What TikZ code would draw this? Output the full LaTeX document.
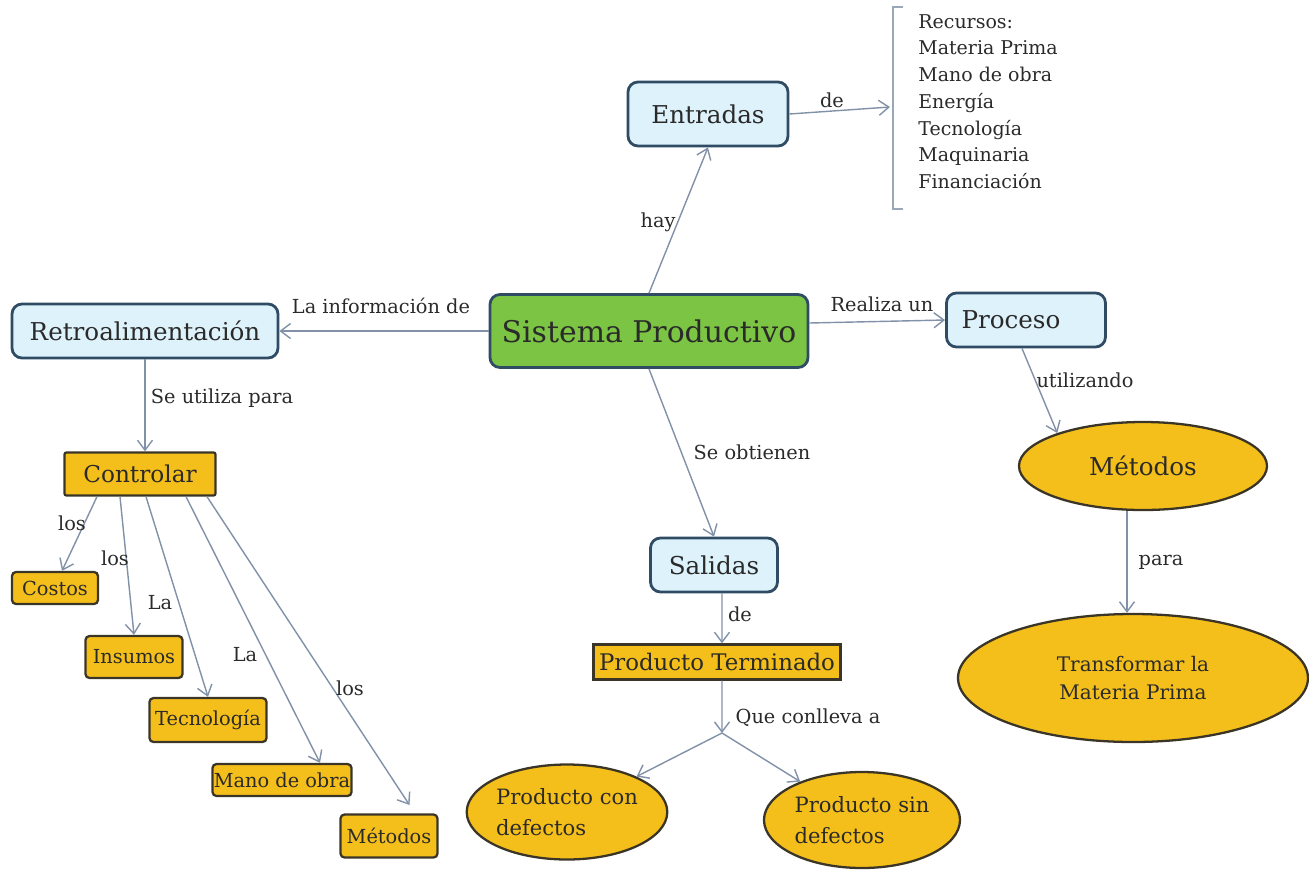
\documentclass[tikz,border=0pt]{standalone}
\usepackage{fontspec}
\setmainfont{DejaVu Serif}
\usepackage{tikz}
\usetikzlibrary{arrows.meta,positioning,shapes.geometric,calc}

\definecolor{boxblue}{HTML}{DDF2FB}
\definecolor{boxedge}{HTML}{2F4C64}
\definecolor{coregreen}{HTML}{7CC444}
\definecolor{itemgold}{HTML}{F5BF1B}
\definecolor{itemedge}{HTML}{3A3526}
\definecolor{linkgray}{HTML}{8191A8}
\definecolor{inktext}{HTML}{2A2A2A}

\begin{document}
\begin{tikzpicture}[
    x=0.2mm, y=-0.2mm,
    concept/.style={draw=boxedge, line width=1.6pt, rounded corners=2mm, fill=boxblue, minimum height=10.8mm, align=center, text=inktext, font=\fontsize{14}{16}\selectfont},
    core/.style={concept, fill=coregreen, minimum width=63.6mm, minimum height=14.6mm, font=\fontsize{17}{19}\selectfont},
    item/.style={draw=itemedge, line width=1.3pt, rounded corners=0.8mm, fill=itemgold, inner sep=1pt, text=inktext, font=\fontsize{11}{13}\selectfont},
    oval/.style={ellipse, draw=itemedge, line width=1.3pt, fill=itemgold, inner sep=0pt, align=center, text=inktext, font=\fontsize{12}{17.6}\selectfont},
    link/.style={-{Straight Barb[length=2mm, width=3mm]}, draw=linkgray, line width=0.8pt},
    lbl/.style={text=inktext, font=\fontsize{11}{13}\selectfont}
]
\useasboundingbox (0,0) rectangle (1309,871);

% main concepts
\node[core] (sis) at (649,331) {Sistema Productivo};
\node[concept, minimum width=32mm, minimum height=12.8mm] (ent) at (708,114) {Entradas};
\node[concept, minimum width=53.2mm] (retro) at (145,331) {Retroalimentación};
\node[concept, minimum width=31.8mm, text width=25.8mm, inner xsep=3mm, align=left] (proc) at (1026,320) {Proceso};
\node[concept, minimum width=25.4mm] (sal) at (714,565) {Salidas};

% resources of the inputs
\node[anchor=north west, inner sep=0pt, align=left, text=inktext, font=\fontsize{10.8}{15.2}\selectfont] (rec) at (918,14)
    {Recursos:\\Materia Prima\\Mano de obra\\Energía\\Tecnología\\Maquinaria\\Financiación};
\draw[draw=linkgray!80, line width=0.8pt] (903,7) -- (893,7) -- (893,209) -- (903,209);
\coordinate (recin) at (890,107);

% feedback branch
\node[item, rounded corners=0.4mm, minimum width=30.2mm, minimum height=8.6mm, font=\fontsize{13.2}{15}\selectfont] (ctrl) at (140,474) {Controlar};
\node[item, minimum width=17.2mm, minimum height=6.4mm] (cost) at (55,588) {Costos};
\node[item, minimum width=19.4mm, minimum height=8.4mm] (insu) at (134,657) {Insumos};
\node[item, minimum width=23.4mm, minimum height=8.8mm] (tec) at (208,720) {Tecnología};
\node[item, minimum width=27.8mm, minimum height=6.4mm, inner xsep=0pt] (mano) at (282,780) {Mano de obra};
\node[item, minimum width=19.4mm, minimum height=8.6mm] (metc) at (389,836) {Métodos};

% outputs
\node[item, rounded corners=0pt, minimum width=49.4mm, minimum height=7mm, inner xsep=0pt, font=\fontsize{13}{15}\selectfont] (term) at (717,662) {Producto Terminado};
\coordinate (fork) at (722,733);
\node[oval, align=left, minimum width=38.8mm, minimum height=19mm] (con) at (567,812) {Producto con\\defectos};
\node[oval, align=left, minimum width=39.2mm, minimum height=19.2mm] (sin) at (862,820) {Producto sin\\defectos};

% process
\node[oval, minimum width=49.6mm, minimum height=17.6mm, font=\fontsize{14}{16}\selectfont] (metr) at (1143,466) {Métodos};
\node[oval, minimum width=70mm, minimum height=25.6mm, font=\fontsize{11.4}{15.9}\selectfont] (trans) at (1133,678) {Transformar la\\Materia Prima};

% links
\draw[link] (sis.north) -- (ent.south);
\draw[link] (ent.east) -- (recin);
\draw[link] (sis.west) -- (retro.east);
\draw[link] ([yshift=1.6mm]sis.east) -- (proc.west);
\draw[link] (sis.south) -- (sal.north);
\draw[link] (retro.south) -- (retro.south |- ctrl.north);
\draw[link] ([xshift=-8.6mm]ctrl.south) -- ([xshift=1.4mm]cost.north);
\draw[link] ([xshift=-4mm]ctrl.south) -- (insu.north);
\draw[link] ([xshift=1.2mm]ctrl.south) -- (tec.north);
\draw[link] ([xshift=9.2mm]ctrl.south) -- ([xshift=7.6mm]mano.north);
\draw[link, shorten >=2mm] ([xshift=13.4mm]ctrl.south) -- ([xshift=5.2mm]metc.north);
\draw[link] ([xshift=1.6mm]sal.south) -- ([xshift=1mm]term.north);
\draw[link] ([xshift=1mm]term.south) -- (fork);
\draw[link] (fork) -- (con);
\draw[link] (fork) -- (sin);
\draw[link] ([xshift=-0.8mm]proc.south) -- (metr.159);
\draw[link] ([xshift=-3.2mm]metr.south) -- ([xshift=-3.2mm]metr.south |- trans.north);

% linking phrases
\node[lbl] (lhay) at (658,222) {hay};
\node[lbl] (lde) at (832,100) {de};
\node[lbl] (linfo) at (381,306) {La información de};
\node[lbl] (lreal) at (882,304) {Realiza un};
\node[lbl] (lobt) at (752,452) {Se obtienen};
\node[lbl] (luti) at (222,398) {Se utiliza para};
\node[lbl] (lusa) at (1085,380) {utilizando};
\node[lbl] (lpara) at (1161,562) {para};
\node[lbl] (llos1) at (72,523) {los};
\node[lbl] (llos2) at (115,558) {los};
\node[lbl] (lla1) at (160,603) {La};
\node[lbl] (lla2) at (245,655) {La};
\node[lbl] (llos3) at (350,688) {los};
\node[lbl] (lde2) at (740,614) {de};
\node[lbl] (lque) at (808,718) {Que conlleva a};
\end{tikzpicture}
\end{document}
